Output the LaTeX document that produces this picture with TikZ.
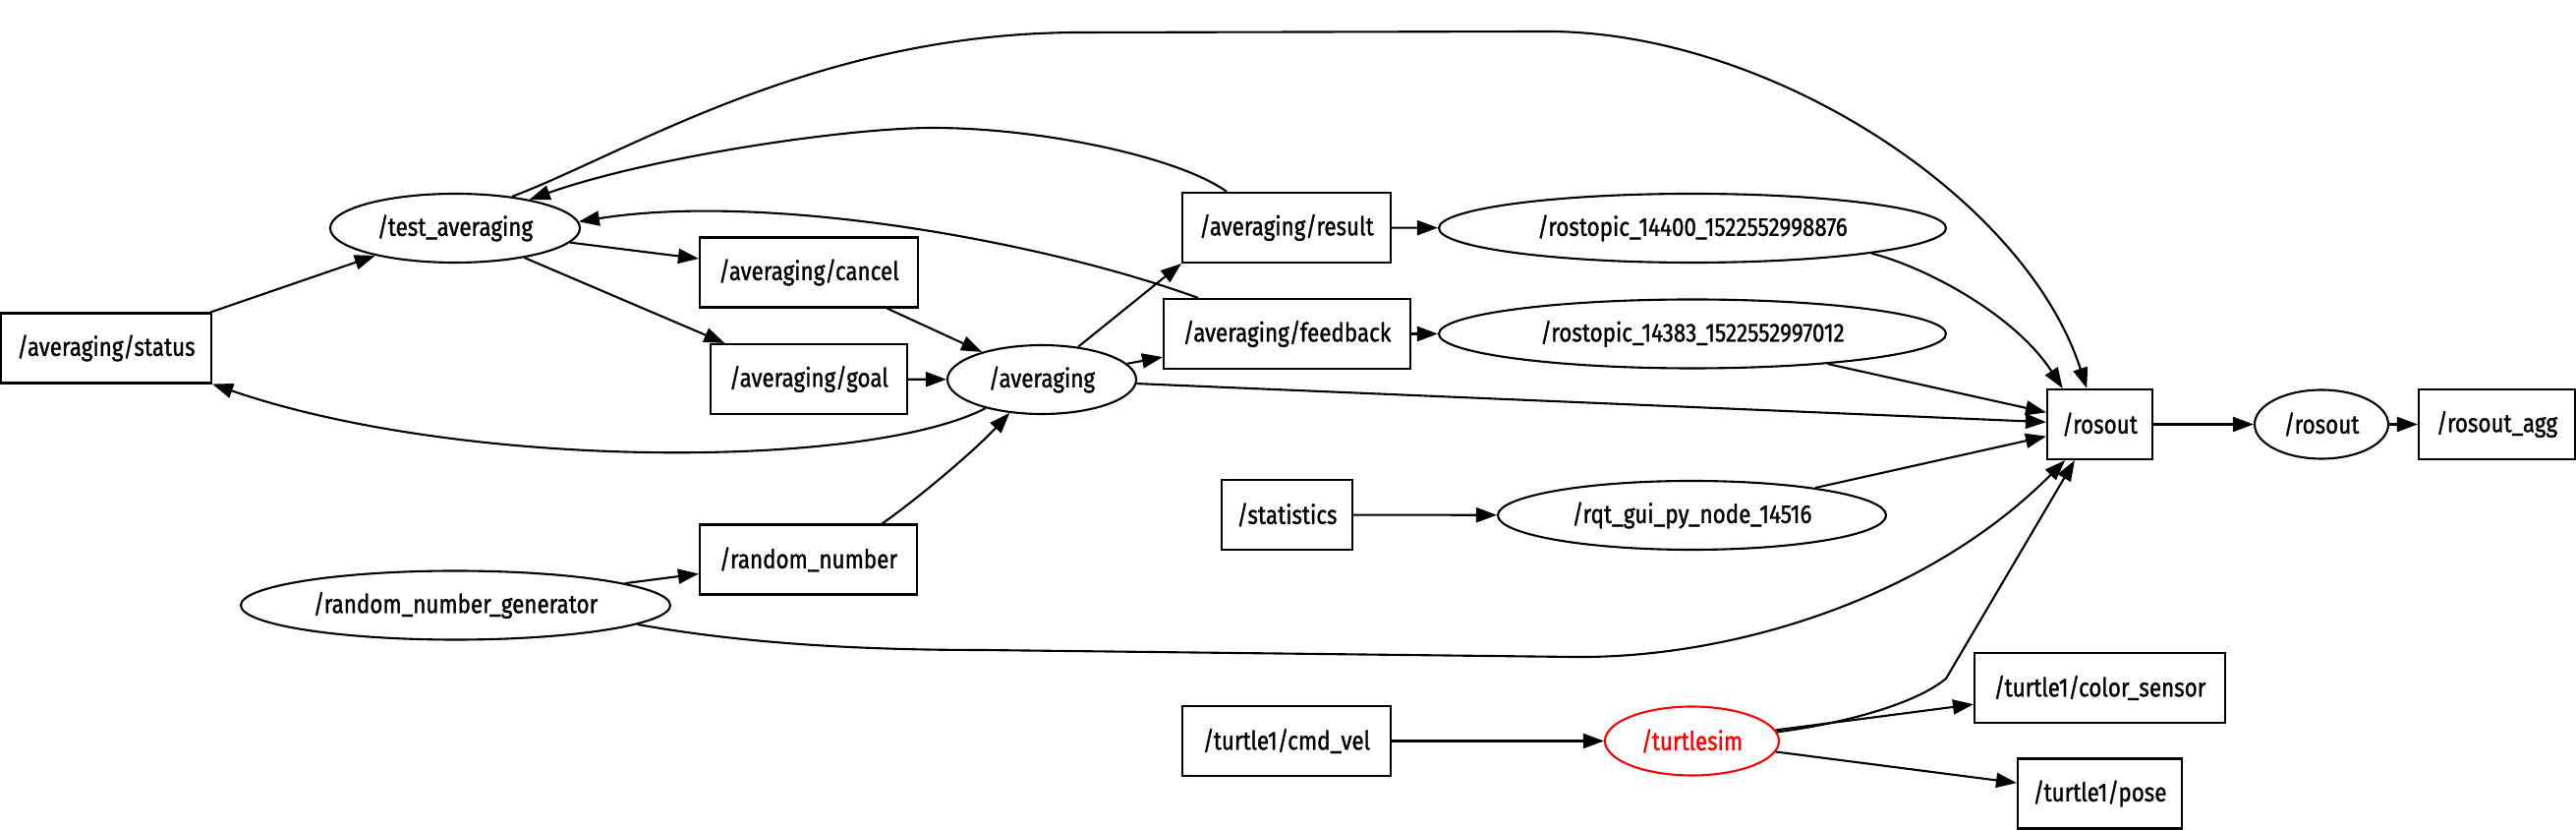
\documentclass[tikz,border=0pt]{standalone}
\usepackage{fontspec}
\setmainfont{Fira Sans}[FakeStretch=0.85, FakeBold=1.2]
\usetikzlibrary{shapes.geometric,arrows.meta}
\tikzset{
  tpc/.style={draw, rectangle, line width=0.6pt, minimum height=7.1mm, inner sep=0pt},
  nde/.style={draw, ellipse, line width=0.6pt, minimum height=7mm, inner sep=0pt},
  flow/.style={-{Triangle[length=2.1mm,width=1.5mm]}, line width=0.6pt},
}

\begin{document}
\begin{tikzpicture}[font=\fontsize{7.5}{8.5}\selectfont]
    \useasboundingbox (0,0) rectangle (26.21,-8.44);
    % averaging action
    \node[tpc, minimum width=21.4mm] (stat) at (1.08,-3.54) {/averaging/status};
    \node[nde, minimum width=25.4mm] (tavg) at (4.63,-2.32) {/test\_averaging};
    \node[tpc, minimum width=22.2mm] (canc) at (8.23,-2.77) {/averaging/cancel};
    \node[tpc, minimum width=20mm] (goal) at (8.23,-3.855) {/averaging/goal};
    \node[nde, minimum width=19.2mm] (avg) at (10.60,-3.86) {/averaging};
    \node[tpc, minimum width=21.2mm] (res) at (13.09,-2.315) {/averaging/result};
    \node[tpc, minimum width=25.1mm] (fdb) at (13.095,-3.395) {/averaging/feedback};
    \node[nde, minimum width=51.6mm] (rt1) at (17.22,-2.32) {/rostopic\_14400\_1522552998876};
    \node[nde, minimum width=51.6mm] (rt2) at (17.22,-3.395) {/rostopic\_14383\_1522552997012};
    % random numbers
    \node[tpc, minimum width=22.1mm] (rnum) at (8.225,-5.69) {/random\_number};
    \node[nde, minimum width=43.7mm] (rng) at (4.635,-6.155) {/random\_number\_generator};
    % logging
    \node[tpc, minimum width=10.7mm] (ros) at (21.365,-4.315) {/rosout};
    \node[nde, minimum width=13.6mm] (rosn) at (23.62,-4.315) {/rosout};
    \node[tpc, minimum width=15.9mm] (agg) at (25.405,-4.315) {/rosout\_agg};
    \node[tpc, minimum width=13.3mm] (stats) at (13.095,-5.235) {/statistics};
    \node[nde, minimum width=39.5mm] (rqt) at (17.215,-5.24) {/rqt\_gui\_py\_node\_14516};
    % turtlesim
    \node[tpc, minimum width=21.2mm] (cmd) at (13.09,-7.535) {/turtle1/cmd\_vel};
    \node[nde, minimum width=17.7mm, draw=red, text=red] (tsim) at (17.215,-7.535) {/turtlesim};
    \node[tpc, minimum width=25.5mm] (col) at (21.365,-6.995) {/turtle1/color\_sensor};
    \node[tpc, minimum width=16.7mm] (pose) at (21.365,-8.07) {/turtle1/pose};
    % straight edges
    \draw[flow] (stat) -- (tavg);
    \draw[flow] (tavg) -- (canc);
    \draw[flow] (tavg) -- (goal);
    \draw[flow] (canc) -- (avg);
    \draw[flow] (goal) -- (avg);
    \draw[flow] (avg.42) -- (res.south west);
    \draw[flow] (avg) -- (fdb);
    \draw[flow] (avg) -- (ros);
    \draw[flow] (res) -- (rt1);
    \draw[flow] (fdb) -- (rt2);
    \draw[flow] (rt2) -- (ros);
    \draw[flow] (rng) -- (rnum);
    \draw[flow] (stats) -- (rqt);
    \draw[flow] (rqt) -- (ros);
    \draw[flow] (cmd) -- (tsim);
    \draw[flow] (tsim) -- (col);
    \draw[flow] (tsim) -- (pose);
    \draw[flow] (ros) -- (rosn);
    \draw[flow] (rosn) -- (agg);
    % curved edges
    \draw[flow] (avg.207) .. controls (8.80,-4.78) and (4.70,-4.78) .. (stat.south east);
    \draw[flow] (res.149) .. controls (12.00,-1.60) and (10.60,-1.30) .. (9.49,-1.30)
      .. controls (8.60,-1.30) and (6.60,-1.60) .. (tavg.21);
    \draw[flow] (fdb.158) .. controls (10.60,-2.45) and (7.80,-1.95) .. (tavg.3);
    \draw[flow] (tavg.29) .. controls (6.40,-1.55) and (8.30,-0.33) .. (11.00,-0.33)
      -- (15.74,-0.32) .. controls (18.00,-0.32) and (20.60,-2.00) .. (ros.110);
    \draw[flow] (rt1.352) .. controls (19.60,-2.72) and (20.50,-3.20) .. (ros.136);
    \draw[flow] (rnum.26) .. controls (9.30,-5.10) and (9.90,-4.60) .. (avg.226);
    \draw[flow] (rng.354) .. controls (7.60,-6.55) and (8.80,-6.61) .. (10.00,-6.61)
      -- (16.00,-6.68) .. controls (17.60,-6.70) and (19.60,-6.10) .. (ros.226);
    \draw[flow] (tsim.6) .. controls (18.80,-7.35) and (19.50,-7.15) .. (19.80,-6.90)
      -- (ros.235);
\end{tikzpicture}
\end{document}
